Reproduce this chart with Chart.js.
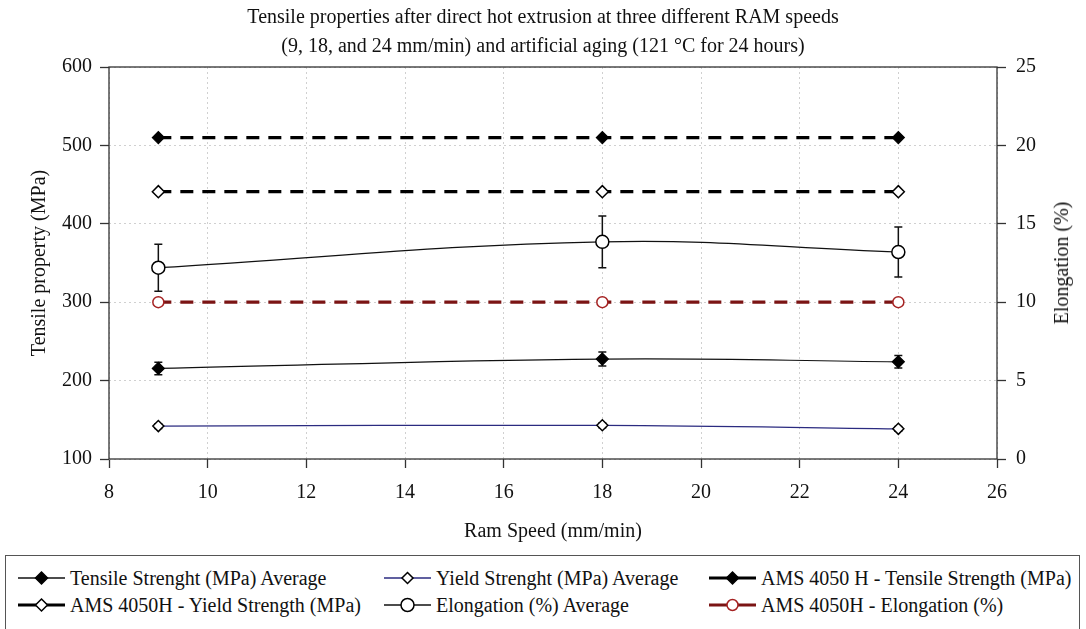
<!DOCTYPE html>
<html>
<head>
<meta charset="utf-8">
<script src="https://cdn.jsdelivr.net/npm/chart.js@4"></script>
<style>
  html, body { margin: 0; padding: 0; background: #fff; }
  #wrap { position: relative; width: 1086px; height: 629px; overflow: hidden; font-family: "Liberation Serif", "Times New Roman", serif; }
  #box { position: absolute; left: 0; top: 0; width: 1086px; height: 550px; }
  #legend { position: absolute; left: 5px; top: 555px; width: 1075px; height: 90px; border: 1px solid #555; box-sizing: border-box; }
  .item { position: absolute; height: 24px; display: flex; align-items: center; font-size: 20px; color: #111; white-space: nowrap; }
  .item svg { margin-right: 5px; }
  #rtitle { position: absolute; left: 1061px; top: 263px; transform: translate(-50%, -50%) rotate(-90deg); font-size: 20px; color: #111; white-space: nowrap; line-height: 24px; }
</style>
</head>
<body>
<div id="wrap">
  <div id="box"><canvas id="c"></canvas></div>
  <div id="rtitle"></div>
  <div id="legend"></div>
</div>
<script>
// ---- data ----
const ramSpeeds = [9, 18, 24];
const tensileAvg = [215.5, 227.5, 224];
const tensileErr = [8, 9, 8];
const yieldAvg = [142, 143, 138.5];
const yieldErr = [3, 3, 3];
const amsTensile = [510, 510, 510];
const amsYield = [441, 441, 441];
const elongAvg = [12.2, 13.85, 13.2];
const elongErr = [1.5, 1.65, 1.6];
const amsElong = [10, 10, 10];
const titleLines = ["Tensile properties after direct hot extrusion at three different RAM speeds",
                    "(9, 18, and 24 mm/min) and artificial aging (121 \u00B0C for 24 hours)"];
const xTitle = "Ram Speed (mm/min)";
const yTitle = "Tensile property (MPa)";
const y1Title = "Elongation (%)";
const legendLabels = ["Tensile Strenght (MPa) Average", "Yield Strenght (MPa) Average",
  "AMS 4050 H - Tensile Strength (MPa)", "AMS 4050H - Yield Strength (MPa)",
  "Elongation (%) Average", "AMS 4050H - Elongation (%)"];

const FONT = "'Liberation Serif', 'Times New Roman', serif";
const pts = arr => arr.map((v, i) => ({x: ramSpeeds[i], y: v}));

const datasets = [
  {label: legendLabels[0], data: pts(tensileAvg), errors: tensileErr, yAxisID: 'y',
   borderColor: '#111', borderWidth: 1.2, tension: 0.4, pointStyle: 'rectRot', pointRadius: 6,
   pointBackgroundColor: '#000', pointBorderColor: '#000', pointBorderWidth: 1.2},
  {label: legendLabels[1], data: pts(yieldAvg), errors: yieldErr, yAxisID: 'y',
   borderColor: '#2b2b80', borderWidth: 1.2, tension: 0.4, pointStyle: 'rectRot', pointRadius: 5.5,
   pointBackgroundColor: '#fff', pointBorderColor: '#000', pointBorderWidth: 1.5},
  {label: legendLabels[2], data: pts(amsTensile), yAxisID: 'y',
   borderColor: '#000', borderWidth: 3.2, borderDash: [13, 9], tension: 0, pointStyle: 'rectRot', pointRadius: 6,
   pointBackgroundColor: '#000', pointBorderColor: '#000', pointBorderWidth: 1.2},
  {label: legendLabels[3], data: pts(amsYield), yAxisID: 'y',
   borderColor: '#000', borderWidth: 3.2, borderDash: [13, 9], tension: 0, pointStyle: 'rectRot', pointRadius: 6,
   pointBackgroundColor: '#fff', pointBorderColor: '#000', pointBorderWidth: 1.5},
  {label: legendLabels[4], data: pts(elongAvg), errors: elongErr, yAxisID: 'y1',
   borderColor: '#111', borderWidth: 1.2, tension: 0.4, pointStyle: 'circle', pointRadius: 6.5,
   pointBackgroundColor: '#fff', pointBorderColor: '#000', pointBorderWidth: 1.5},
  {label: legendLabels[5], data: pts(amsElong), yAxisID: 'y1',
   borderColor: '#7b1414', borderWidth: 3.2, borderDash: [13, 9], tension: 0, pointStyle: 'circle', pointRadius: 5.5,
   pointBackgroundColor: '#fff', pointBorderColor: '#a52222', pointBorderWidth: 1.5}
];

const errorBars = {
  id: 'errorBars',
  beforeDatasetsDraw(chart) {
    const ctx = chart.ctx;
    chart.data.datasets.forEach((ds) => {
      if (!ds.errors) return;
      const xs = chart.scales.x, ys = chart.scales[ds.yAxisID];
      ctx.save();
      ctx.strokeStyle = '#111'; ctx.lineWidth = 1.5;
      ds.data.forEach((p, i) => {
        const e = ds.errors[i];
        const px = xs.getPixelForValue(p.x);
        const top = ys.getPixelForValue(p.y + e), bot = ys.getPixelForValue(p.y - e);
        ctx.beginPath();
        ctx.moveTo(px, top); ctx.lineTo(px, bot);
        ctx.moveTo(px - 4, top); ctx.lineTo(px + 4, top);
        ctx.moveTo(px - 4, bot); ctx.lineTo(px + 4, bot);
        ctx.stroke();
      });
      ctx.restore();
    });
  }
};
const frame = {
  id: 'frame',
  afterDraw(chart) {
    const a = chart.chartArea, ctx = chart.ctx;
    ctx.save(); ctx.strokeStyle = '#333'; ctx.lineWidth = 1.3;
    ctx.strokeRect(a.left, a.top, a.right - a.left, a.bottom - a.top);
    ctx.restore();
  }
};

const gridCommon = {color: '#d0d0d0', lineWidth: 1, tickLength: 9, tickColor: '#333', tickWidth: 1.3, tickBorderDash: []};
new Chart(document.getElementById('c'), {
  type: 'line',
  data: {datasets},
  plugins: [errorBars, frame],
  options: {
    responsive: true, maintainAspectRatio: false, animation: false,
    layout: {padding: 0},
    plugins: {
      legend: {display: false},
      tooltip: {enabled: false},
      title: {display: true, text: titleLines, color: '#111',
              font: {family: FONT, size: 20, weight: 'normal', lineHeight: 1.45}, padding: {top: 3, bottom: 6}}
    },
    scales: {
      x: {type: 'linear', min: 8, max: 26,
          ticks: {stepSize: 2, color: '#111', font: {family: FONT, size: 20}, padding: 13, maxRotation: 0},
          grid: gridCommon, border: {display: false, dash: [2, 3]},
          title: {display: true, text: xTitle, color: '#111', font: {family: FONT, size: 20}, padding: {top: 4, bottom: 6}},
          afterFit: s => { s.height = 91; }},
      y: {type: 'linear', position: 'left', min: 100, max: 600,
          ticks: {stepSize: 100, color: '#111', font: {family: FONT, size: 20}, padding: 8},
          grid: gridCommon, border: {display: false, dash: [2, 3]},
          title: {display: true, text: yTitle, color: '#111', font: {family: FONT, size: 20}, padding: {top: 28, bottom: 0}},
          afterFit: s => { s.width = 109; }},
      y1: {type: 'linear', position: 'right', min: 0, max: 25,
          ticks: {stepSize: 5, color: '#111', font: {family: FONT, size: 20}, padding: 10},
          grid: Object.assign({}, gridCommon, {drawOnChartArea: false}), border: {display: false},
          title: {display: false},
          afterFit: s => { s.width = 89; }}
    }
  }
});
document.getElementById('rtitle').textContent = y1Title;

// ---- HTML legend ----
const legendPos = [[12, 10], [378, 10], [703, 10], [12, 37], [378, 37], [703, 37]];
function markerSVG(ds) {
  const lw = ds.borderDash ? 3.2 : 1.3;
  let m;
  if (ds.pointStyle === 'circle') {
    m = `<circle cx="23.5" cy="10" r="${ds.pointRadius}" fill="${ds.pointBackgroundColor}" stroke="${ds.pointBorderColor}" stroke-width="1.5"/>`;
  } else {
    const r = ds.pointRadius;
    m = `<polygon points="23.5,${10 - r} ${23.5 + r},10 23.5,${10 + r} ${23.5 - r},10" fill="${ds.pointBackgroundColor}" stroke="${ds.pointBorderColor}" stroke-width="1.5"/>`;
  }
  return `<svg width="47" height="20" viewBox="0 0 47 20"><line x1="0" y1="10" x2="47" y2="10" stroke="${ds.borderColor}" stroke-width="${lw}"/>${m}</svg>`;
}
const lg = document.getElementById('legend');
datasets.forEach((ds, i) => {
  const d = document.createElement('div');
  d.className = 'item';
  d.style.left = legendPos[i][0] + 'px';
  d.style.top = legendPos[i][1] + 'px';
  d.innerHTML = markerSVG(ds) + '<span>' + ds.label + '</span>';
  lg.appendChild(d);
});
</script>
</body>
</html>
